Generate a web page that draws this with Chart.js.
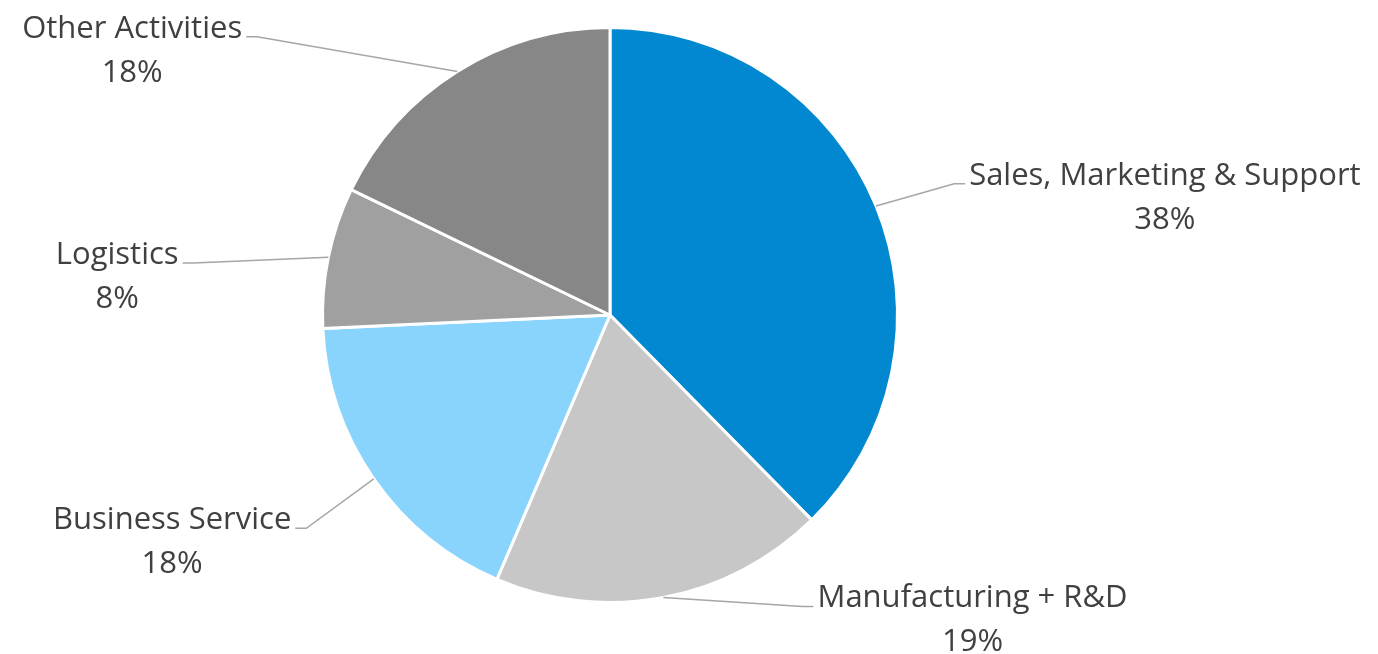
<!DOCTYPE html>
<html>
<head>
<meta charset="utf-8">
<script src="https://cdn.jsdelivr.net/npm/chart.js@4.4.1/dist/chart.umd.min.js"></script>
<style>
  html, body { margin: 0; padding: 0; background: #fff; }
  #wrap { width: 1378px; height: 654px; position: relative; }
</style>
</head>
<body>
<div id="wrap"><canvas id="chart"></canvas></div>
<script>
// data
const categories = ['Sales, Marketing & Support', 'Manufacturing + R&D', 'Business Service', 'Logistics', 'Other Activities'];
const shares = [38, 19, 18, 8, 18];
const sliceColors = ['#0288D1', '#C7C7C7', '#89D4FD', '#A0A0A0', '#878787'];

// where each label block sits, relative to pie centre, in units of the radius
const labelSpots = [
  { dx: 1.930, dy: -0.491, side: 'left' },
  { dx: 1.261, dy: 0.979, side: 'left' },
  { dx: -1.523, dy: 0.707, side: 'right' },
  { dx: -1.714, dy: -0.216, side: 'right' },
  { dx: -1.662, dy: -1.003, side: 'right' }
];

const FONT = '31px "Open Sans", sans-serif';

const outsideLabels = {
  id: 'outsideLabels',
  afterDatasetsDraw(chart) {
    const ctx = chart.ctx;
    const meta = chart.getDatasetMeta(0);
    ctx.save();
    ctx.font = FONT;
    ctx.textAlign = 'center';
    ctx.textBaseline = 'alphabetic';
    meta.data.forEach((arc, i) => {
      const { x, y, startAngle, endAngle, outerRadius } = arc.getProps(['x', 'y', 'startAngle', 'endAngle', 'outerRadius'], true);
      const mid = (startAngle + endAngle) / 2;
      const ex = x + Math.cos(mid) * outerRadius;
      const ey = y + Math.sin(mid) * outerRadius;

      const spot = labelSpots[i];
      const cx = x + spot.dx * outerRadius;
      const cy = y + spot.dy * outerRadius;
      const line1 = categories[i];
      const line2 = chart.data.datasets[0].data[i] + '%';
      const w = Math.max(ctx.measureText(line1).width, ctx.measureText(line2).width);

      const gap = 4, seg = 11;
      const edge = spot.side === 'left' ? cx - w / 2 - gap : cx + w / 2 + gap;
      const elbow = spot.side === 'left' ? edge - seg : edge + seg;
      const ly = cy + 10;

      ctx.strokeStyle = '#A6A6A6';
      ctx.lineWidth = 1.5;
      ctx.beginPath();
      ctx.moveTo(ex, ey);
      ctx.lineTo(elbow, ly);
      ctx.lineTo(edge, ly);
      ctx.stroke();

      ctx.fillStyle = '#404040';
      ctx.fillText(line1, cx, cy + 11);
      ctx.fillText(line2, cx, cy + 55);
    });
    ctx.restore();
  }
};

new Chart(document.getElementById('chart'), {
  type: 'pie',
  data: {
    labels: categories,
    datasets: [{
      data: shares,
      backgroundColor: sliceColors,
      borderColor: '#ffffff',
      borderWidth: 3
    }]
  },
  options: {
    responsive: true,
    maintainAspectRatio: false,
    animation: false,
    layout: { padding: { left: 0, right: 158, top: 26, bottom: 50 } },
    plugins: {
      legend: { display: false },
      tooltip: { enabled: false }
    }
  },
  plugins: [outsideLabels]
});
</script>
</body>
</html>
